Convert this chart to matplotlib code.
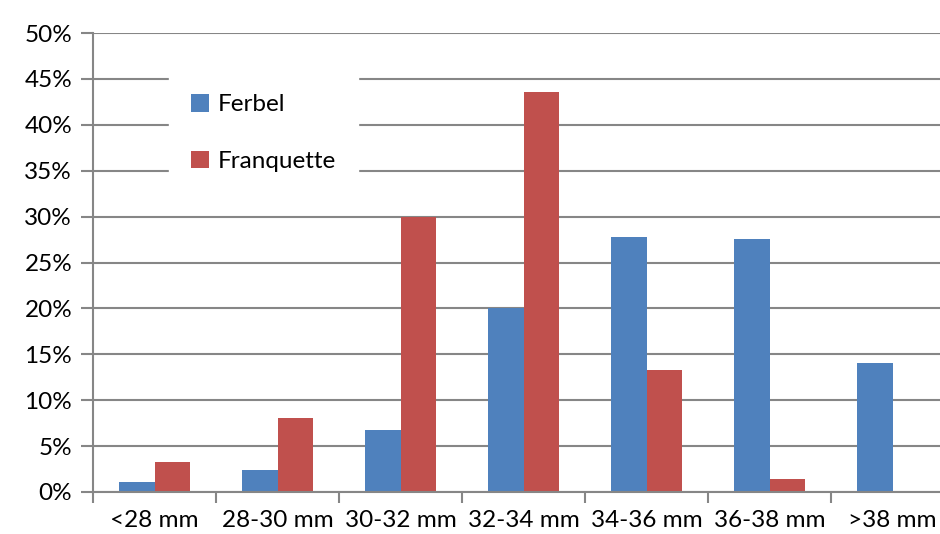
import numpy as np
import matplotlib.pyplot as plt

# size classes and shares (%)
categories = ["<28 mm", "28-30 mm", "30-32 mm", "32-34 mm", "34-36 mm", "36-38 mm", ">38 mm"]
ferbel = [1.1, 2.4, 6.7, 20.0, 27.8, 27.6, 14.1]
franquette = [3.3, 8.1, 30.0, 43.6, 13.3, 1.4, 0.0]
yticks = np.arange(0, 51, 5)

plt.rcParams['font.family'] = ['Lato', 'DejaVu Sans']

fig = plt.figure(figsize=(9.4, 5.34), dpi=100)
ax = fig.add_axes([93 / 940, 42 / 534, 861 / 940, 459 / 534])

x = np.arange(len(categories))
w = 0.285
ax.bar(x - w / 2, ferbel, w, color='#4f81bd', label='Ferbel', zorder=2)
ax.bar(x + w / 2, franquette, w, color='#c0504d', label='Franquette', zorder=2)

ax.set_xlim(-0.5, len(categories) - 0.5)
ax.set_ylim(0, 50)
ax.set_yticks(yticks)
ax.set_yticklabels([f"{v}%" for v in yticks], fontsize=17.5)
ax.set_xticks(x)
ax.set_xticklabels(categories, fontsize=17.5)
ax.set_xticks(np.arange(len(categories) + 1) - 0.5, minor=True)

ax.grid(axis='y', color='#868686', linewidth=1.5, zorder=0)
ax.set_axisbelow(True)
for s in ['top', 'right']:
    ax.spines[s].set_visible(False)
for s in ['left', 'bottom']:
    ax.spines[s].set_color('#868686')
    ax.spines[s].set_linewidth(1.5)

ax.tick_params(axis='y', length=9, width=1.5, color='#868686', pad=6)
ax.tick_params(axis='x', which='major', length=0, pad=13)
ax.tick_params(axis='x', which='minor', length=8, width=1.5, color='#868686')

leg = ax.legend(loc='upper left', bbox_to_anchor=(157 / 940, 1 - 60 / 534),
                bbox_transform=fig.transFigure, frameon=True, framealpha=1,
                edgecolor='white', facecolor='white', fancybox=False,
                fontsize=17.5, handlelength=0.75, handleheight=0.75,
                handletextpad=0.35, labelspacing=1.45, borderpad=0.9)
leg.set_zorder(5)

fig.savefig('out.png', dpi=100)
